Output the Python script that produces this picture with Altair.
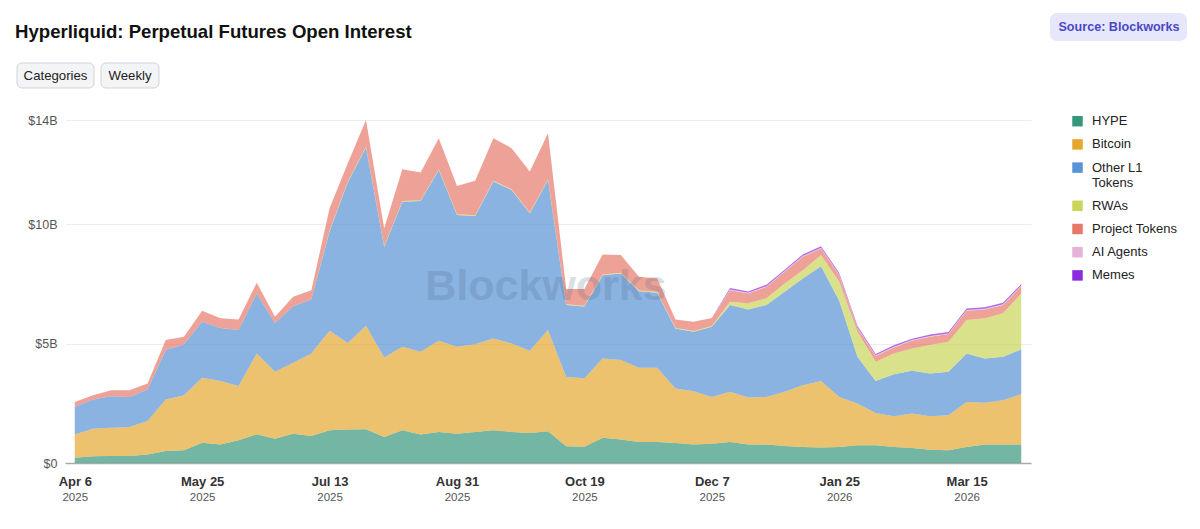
import altair as alt
import pandas as pd

# ---------------- data ($B) ----------------
start_week = "2025-04-06"
n_weeks = 53
weeks = [d.strftime("%Y-%m-%d") for d in pd.date_range(start_week, periods=n_weeks, freq="7D")]

categories = ["HYPE", "Bitcoin", "Other L1 Tokens", "RWAs", "Project Tokens", "AI Agents", "Memes"]
colors = ["#36977c", "#e4a831", "#5893d6", "#c9d65a", "#e77969", "#e6b3d6", "#8a2be2"]

hype = [0.22, 0.28, 0.29, 0.29, 0.36, 0.50, 0.53, 0.85, 0.77, 0.95,
        1.20, 1.02, 1.23, 1.13, 1.37, 1.40, 1.41, 1.09, 1.37, 1.19,
        1.30, 1.23, 1.30, 1.37, 1.30, 1.26, 1.33, 0.70, 0.68, 1.06,
        0.98, 0.88, 0.88, 0.84, 0.77, 0.81, 0.88, 0.77, 0.77, 0.71,
        0.67, 0.65, 0.67, 0.74, 0.74, 0.67, 0.63, 0.56, 0.53, 0.67,
        0.78, 0.78, 0.78]
bitcoin = [0.97, 1.16, 1.19, 1.22, 1.40, 2.16, 2.31, 2.72, 2.67, 2.28,
           3.39, 2.80, 2.97, 3.46, 4.17, 3.63, 4.34, 3.33, 3.50, 3.47,
           3.82, 3.64, 3.67, 3.85, 3.71, 3.44, 4.24, 2.90, 2.87, 3.32,
           3.33, 3.11, 3.11, 2.28, 2.24, 1.96, 2.10, 1.97, 2.00, 2.27,
           2.59, 2.79, 2.10, 1.75, 1.36, 1.29, 1.44, 1.40, 1.47, 1.89,
           1.74, 1.85, 2.10]
other_l1 = [1.16, 1.22, 1.32, 1.26, 1.32, 2.07, 2.14, 2.35, 2.22, 2.34,
            2.51, 2.03, 2.37, 2.26, 4.16, 6.72, 7.47, 4.64, 6.08, 6.32,
            7.16, 5.52, 5.38, 6.57, 6.43, 5.76, 6.29, 3.02, 3.01, 3.49,
            3.63, 3.21, 3.14, 2.52, 2.49, 2.94, 3.64, 3.69, 3.85, 4.19,
            4.47, 4.80, 4.03, 1.96, 1.34, 1.76, 1.79, 1.79, 1.82, 2.03,
            1.86, 1.82, 1.88]
rwas = [0.0, 0.0, 0.0, 0.0, 0.0, 0.0, 0.0, 0.0, 0.0, 0.0,
        0.0, 0.0, 0.0, 0.0, 0.03, 0.03, 0.03, 0.03, 0.03, 0.03,
        0.03, 0.03, 0.03, 0.03, 0.03, 0.03, 0.03, 0.03, 0.03, 0.03,
        0.03, 0.03, 0.03, 0.03, 0.03, 0.03, 0.14, 0.26, 0.28, 0.35,
        0.35, 0.47, 0.79, 1.05, 0.80, 0.87, 0.94, 1.19, 1.26, 1.40,
        1.68, 1.82, 2.34]
project = [0.21, 0.18, 0.25, 0.28, 0.25, 0.42, 0.31, 0.46, 0.40, 0.44,
           0.45, 0.28, 0.40, 0.39, 0.94, 0.78, 1.12, 0.74, 1.33, 1.16,
           1.30, 1.19, 1.45, 1.79, 1.72, 1.72, 1.93, 0.64, 0.70, 0.84,
           0.74, 0.57, 0.57, 0.34, 0.39, 0.34, 0.48, 0.41, 0.48, 0.49,
           0.56, 0.28, 0.28, 0.16, 0.24, 0.25, 0.32, 0.35, 0.32, 0.39,
           0.37, 0.35, 0.31]
ai_agents = [0.0] * 36 + [0.03] * 17
memes = [0.0] * 36 + [0.06] * 17

series = [hype, bitcoin, other_l1, rwas, project, ai_agents, memes]

x_tick_dates = ["2025-04-06", "2025-05-25", "2025-07-13", "2025-08-31",
                "2025-10-19", "2025-12-07", "2026-01-25", "2026-03-15"]
y_tick_values = [0, 5, 10]

title_text = "Hyperliquid: Perpetual Futures Open Interest"
button_texts = ["Categories", "Weekly"]
source_text = "Source: Blockworks"
watermark_text = "Blockworks"

# ---------------- tables ----------------
rows = []
for k, (cat, vals) in enumerate(zip(categories, series)):
    for d, v in zip(weeks, vals):
        rows.append({"date": d, "category": cat, "value": v, "order": k})
df = pd.DataFrame(rows)
totals = df.groupby("date")["value"].sum()
ymax = float(totals.max())

FONT = "Liberation Sans, Arial, Helvetica, sans-serif"


def dt(s, hours=0):
    y, m, d = (int(p) for p in s.split("-"))
    return alt.DateTime(year=y, month=m, date=d, hours=hours, utc=True)


x_scale = alt.Scale(type="utc", domain=[dt("2025-04-02", 6), dt("2026-04-08", 18)], nice=False)
x_values = [dt(s) for s in x_tick_dates]

W, H = 966, 343

areas = alt.Chart(df).mark_area(opacity=0.7, interpolate="linear").encode(
    x=alt.X("date:T", scale=x_scale, title=None,
            axis=alt.Axis(values=x_values, orient="bottom",
                          labelExpr="utcFormat(datum.value, '%b %-d')",
                          labelFontWeight="bold", labelFontSize=13, labelColor="#333333",
                          labelFont=FONT, labelPadding=12.5, ticks=False, grid=False,
                          domain=True, domainColor="#aaaaaa", domainWidth=1.5,
                          labelOverlap=False, labelFlush=False)),
    y=alt.Y("value:Q", stack="zero", title=None,
            scale=alt.Scale(domain=[0, ymax], nice=False, zero=True),
            axis=alt.Axis(values=y_tick_values + [ymax],
                          labelExpr="datum.value == 0 ? '$0' : '$' + round(datum.value) + 'B'",
                          labelFontSize=12.5, labelColor="#555555", labelFont=FONT,
                          labelPadding=8, ticks=False, domain=False,
                          grid=True, gridColor="#ececec", gridWidth=1)),
    color=alt.Color("category:N",
                    scale=alt.Scale(domain=categories, range=colors),
                    legend=alt.Legend(title=None, orient="none", legendX=1006, legendY=-5.3,
                                      symbolType="square", symbolSize=110, symbolOpacity=1,
                                      symbolStrokeWidth=0, labelFontSize=13, labelColor="#222222",
                                      labelFont=FONT, labelOffset=8, rowPadding=9.2, labelLimit=220,
                                      labelExpr="datum.label == 'Other L1 Tokens' ? ['Other L1', 'Tokens'] : datum.label")),
    order=alt.Order("order:Q", sort="ascending"),
)

years = alt.Chart(df).mark_point(opacity=0).encode(
    x=alt.X("date:T", scale=x_scale, title=None,
            axis=alt.Axis(values=x_values, orient="bottom",
                          labelExpr="utcFormat(datum.value, '%Y')",
                          labelFontSize=11.5, labelColor="#555555", labelFont=FONT,
                          labelPadding=28, ticks=False, grid=False, domain=False,
                          labelOverlap=False, labelFlush=False)),
    y=alt.value(0),
)

one = pd.DataFrame({"k": [0]})

watermark = alt.Chart(one).mark_text(text=watermark_text, font=FONT, fontSize=43, fontWeight="bold",
                                     color="#4d6480", opacity=0.2, align="center", baseline="middle").encode(
    x=alt.value(481), y=alt.value(167))

title = alt.Chart(one).mark_text(text=title_text, font=FONT, fontSize=18.6, fontWeight="bold",
                                 color="#111111", align="left", baseline="alphabetic").encode(
    x=alt.value(-50), y=alt.value(-82))

btn1 = alt.Chart(one).mark_rect(fill="#f3f4f6", stroke="#cfd3d9", strokeWidth=1, cornerRadius=5).encode(
    x=alt.value(-48), x2=alt.value(29), y=alt.value(-57), y2=alt.value(-32))
btn2 = alt.Chart(one).mark_rect(fill="#f3f4f6", stroke="#cfd3d9", strokeWidth=1, cornerRadius=5).encode(
    x=alt.value(36), x2=alt.value(94), y=alt.value(-57), y2=alt.value(-32))
btn1t = alt.Chart(one).mark_text(text=button_texts[0], font=FONT, fontSize=13.2, color="#222222",
                                 align="center", baseline="middle").encode(x=alt.value(-9.5), y=alt.value(-44.5))
btn2t = alt.Chart(one).mark_text(text=button_texts[1], font=FONT, fontSize=13.2, color="#222222",
                                 align="center", baseline="middle").encode(x=alt.value(65), y=alt.value(-44.5))

badge = alt.Chart(one).mark_rect(fill="#e7e7fb", cornerRadius=7).encode(
    x=alt.value(985), x2=alt.value(1122), y=alt.value(-107), y2=alt.value(-79))
badge_t = alt.Chart(one).mark_text(text=source_text, font=FONT, fontSize=12.6, fontWeight="bold",
                                   color="#4a48c4", align="center", baseline="middle").encode(
    x=alt.value(1054), y=alt.value(-93))

chart = alt.layer(areas, years, watermark, title, btn1, btn2, btn1t, btn2t, badge, badge_t).resolve_axis(
    x="independent"
).properties(
    width=W, height=H,
    autosize=alt.AutoSizeParams(type="none"),
    padding={"left": 57, "top": 112, "right": 160, "bottom": 48},
    background="white",
).configure_view(stroke=None)

chart.save("out.html", embed_options={"renderer": "svg", "actions": False})
